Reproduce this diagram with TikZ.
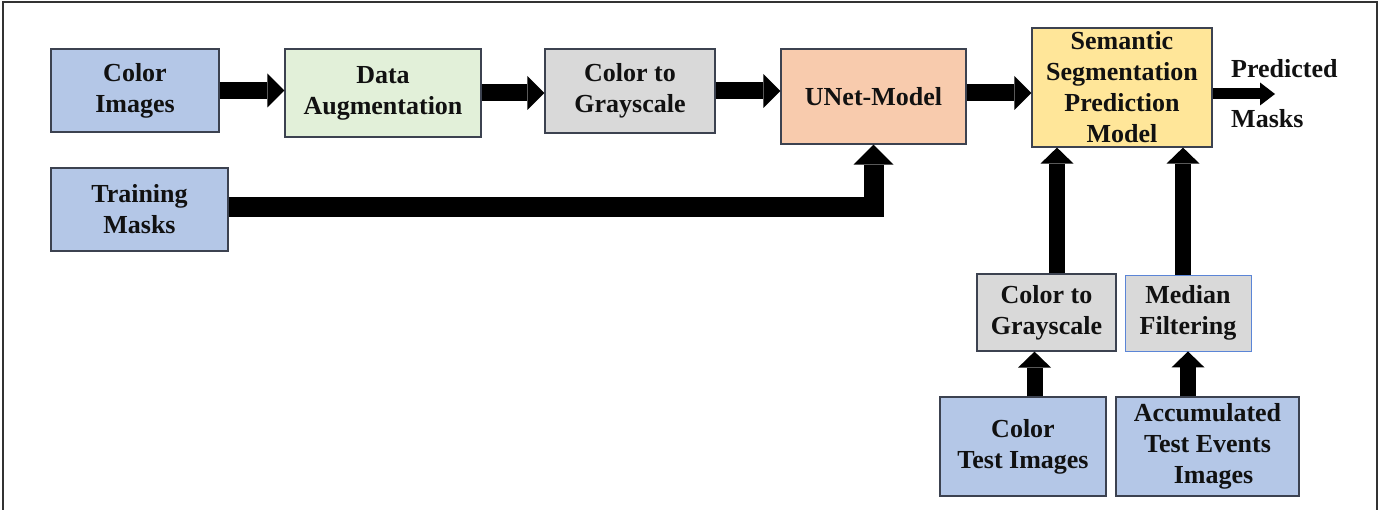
\documentclass[tikz,border=0pt]{standalone}
\usepackage{fontspec}
\setmainfont{Liberation Serif}
\usetikzlibrary{arrows.meta}
\definecolor{cblue}{HTML}{B4C7E7}
\definecolor{cgreen}{HTML}{E2F0D9}
\definecolor{cgray}{HTML}{D9D9D9}
\definecolor{corange}{HTML}{F8CBAD}
\definecolor{cyellow}{HTML}{FFE699}
\definecolor{cborder}{HTML}{3C4250}
\definecolor{cmedborder}{HTML}{5B85D6}
\definecolor{ctext}{HTML}{111111}
\begin{document}
\begin{tikzpicture}[x=1pt,y=-1pt,
  box/.style={draw=cborder, line width=1.2pt, inner sep=0pt, align=center,
    text=ctext, font=\bfseries\fontsize{26}{31}\selectfont},
  fat/.style={line width=17pt, -{Triangle[length=17pt,width=34pt,line width=0pt]}},
  fatv/.style={line width=16pt, -{Triangle[length=16pt,width=33pt,line width=0pt]}},
  fatw/.style={line width=20pt, line join=miter, -{Triangle[length=20pt,width=40pt,line width=0pt]}},
  thin/.style={line width=11pt, -{Triangle[length=15pt,width=23pt,line width=0pt]}},
  lbl/.style={inner sep=0pt, anchor=west, text=ctext, font=\bfseries\fontsize{26}{31}\selectfont}]
\useasboundingbox[fill=white] (0,0) rectangle (1383,510);
\draw[line width=1.5pt, draw=black!80] (3,512) -- (3,2) -- (1377,2) -- (1377,512);

\node[box, fill=cblue, minimum width=168, minimum height=83] (ci) at (135,90.5) {Color\\Images};
\node[box, fill=cgreen, minimum width=196, minimum height=88] (da) at (383,93) {Data\\Augmentation};
\node[box, fill=cblue, minimum width=177, minimum height=83] (tm) at (139.5,209.5) {Training\\Masks};
\node[box, fill=cgray, minimum width=170, minimum height=84] (cg) at (630,91) {Color to\\Grayscale};
\node[box, fill=corange, minimum width=185, minimum height=95] (un) at (873.5,96.5) {UNet-Model};
\node[box, fill=cyellow, minimum width=180, minimum height=119] (ss) at (1122,87.5) {Semantic\\Segmentation\\Prediction\\Model};
\node[box, fill=cgray, minimum width=139, minimum height=77] (cg2) at (1046.5,312.5) {Color to\\Grayscale};
\node[box, draw=cmedborder, line width=0.9pt, fill=cgray, minimum width=126, minimum height=76] (mf) at (1188,313) {Median\\Filtering};
\node[box, fill=cblue, minimum width=166, minimum height=99] (cti) at (1023,446.5) {Color\\Test Images};
\node[box, fill=cblue, minimum width=183, minimum height=99, text depth=6pt] (ati) at (1207.5,446.5) {Accumulated\\Test Events\\\hspace*{12pt}Images};

\node[lbl] (pr) at (1231,69) {Predicted};
\node[lbl] (mk) at (1231,119) {Masks};
\coordinate (out) at (1275,94);

\draw[fat] (ci.east) -- (ci.east -| da.west);
\draw[fat] (da.east) -- (da.east -| cg.west);
\draw[fat] (cg.east) -- (cg.east -| un.west);
\draw[fat] ([yshift=3.5]un.east) -- ([yshift=3.5]un.east -| ss.west);
\draw[thin] (ss.east |- out) -- (out);
\draw[fatw] ([yshift=2.5]tm.east) -| (un.south);
\draw[fatv] ([xshift=10.5]cg2.north) -- ([xshift=10.5]cg2.north |- ss.south);
\draw[fatv] ([xshift=-5]mf.north) -- ([xshift=-5]mf.north |- ss.south);
\draw[fatv] ([xshift=11.5]cti.north) -- ([xshift=11.5]cti.north |- cg2.south);
\draw[fatv] (mf.south |- ati.north) -- (mf.south);
\end{tikzpicture}
\end{document}
